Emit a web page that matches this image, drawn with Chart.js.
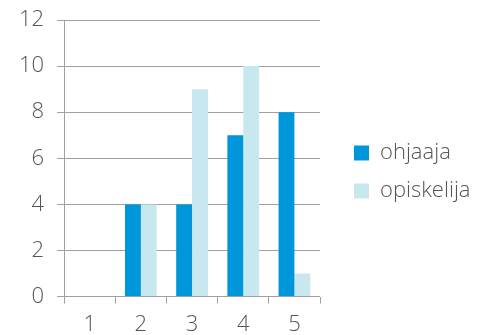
<!DOCTYPE html>
<html>
<head>
<meta charset="utf-8">
<script src="https://cdn.jsdelivr.net/npm/chart.js@4.4.0/dist/chart.umd.min.js"></script>
<style>
    html, body { margin: 0; padding: 0; background: #fff; }
    .wrap { width: 480px; height: 335px; }
</style>
</head>
<body>
<div class="wrap"><canvas id="chart"></canvas></div>
<script>
const categories = ['1', '2', '3', '4', '5'];
const ohjaaja = [0, 4, 4, 7, 8];
const opiskelija = [0, 4, 9, 10, 1];
const yTicks = [0, 2, 4, 6, 8, 10, 12];

// legend sits in a fixed 160px column to the right of the plot
const legendBox = {
    id: 'legendBox',
    beforeLayout(chart) {
        const legend = chart.legend;
        if (!legend || legend._fixed) return;
        const fit = legend.fit.bind(legend);
        legend.fit = function () {
            fit();
            this.width = 160;
        };
        legend._fixed = true;
    },
    afterLayout(chart) {
        const legend = chart.legend;
        if (!legend) return;
        legend.left += 18;
        legend.right += 18;
    }
};

const ctx = document.getElementById('chart').getContext('2d');
Chart.defaults.font.family = "'Open Sans', sans-serif";
Chart.defaults.font.weight = 300;
Chart.defaults.color = '#555555';

new Chart(ctx, {
    type: 'bar',
    data: {
        labels: categories,
        datasets: [{
            label: 'ohjaaja',
            data: ohjaaja,
            backgroundColor: '#0096da',
            barPercentage: 1,
            categoryPercentage: 0.62
        }, {
            label: 'opiskelija',
            data: opiskelija,
            backgroundColor: '#c8e8f0',
            barPercentage: 1,
            categoryPercentage: 0.62
        }]
    },
    options: {
        responsive: true,
        maintainAspectRatio: false,
        animation: false,
        layout: {
            padding: { top: -2, right: 0, bottom: -11, left: 6 }
        },
        plugins: {
            tooltip: { enabled: false },
            legend: {
                position: 'right',
                labels: {
                    boxWidth: 15,
                    boxHeight: 15,
                    padding: 16,
                    color: '#555555',
                    font: { size: 22 }
                }
            }
        },
        scales: {
            x: {
                grid: {
                    drawOnChartArea: false,
                    drawTicks: true,
                    tickLength: 7,
                    color: '#a0a0a0',
                    offset: true
                },
                border: { display: false },
                ticks: {
                    font: { size: 22 },
                    padding: 8
                }
            },
            y: {
                min: 0,
                max: 12,
                afterBuildTicks: axis => {
                    axis.ticks = yTicks.map(v => ({ value: v }));
                },
                afterFit: axis => {
                    axis.paddingTop = 20;
                },
                grid: {
                    color: '#a0a0a0',
                    tickLength: 7
                },
                border: { display: true, color: '#a0a0a0' },
                ticks: {
                    font: { size: 22 },
                    padding: 13
                }
            }
        }
    },
    plugins: [legendBox]
});
</script>
</body>
</html>
